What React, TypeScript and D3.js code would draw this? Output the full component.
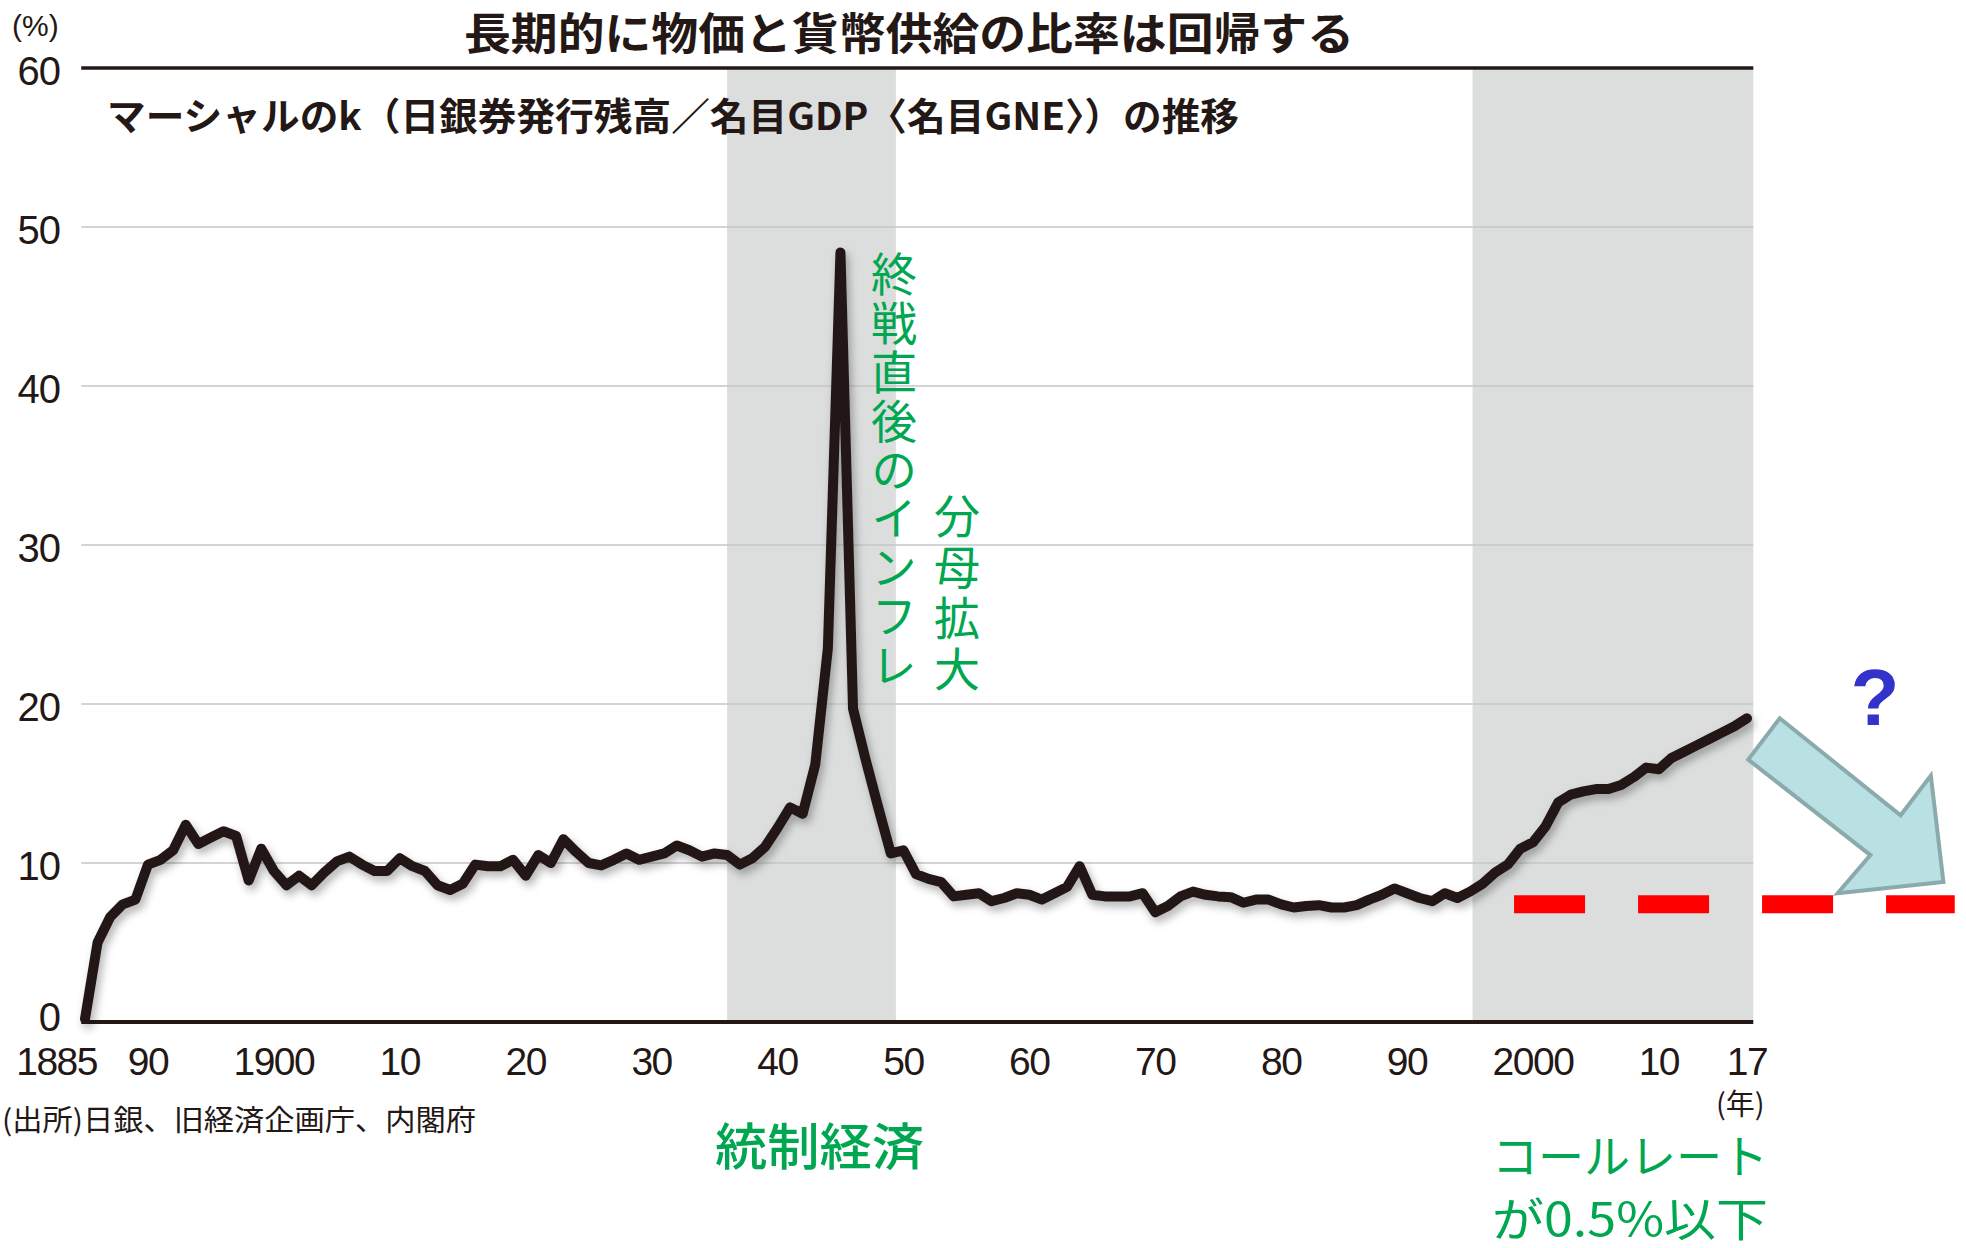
import React from 'react';
import * as d3 from 'd3';

// ---- data: Marshall's k (%) ----
const startYear = 1885;
const values1885_1919 = [
  0.2, 5.0, 6.6, 7.4, 7.7, 9.9, 10.2, 10.8, 12.4, 11.2,
  11.6, 12.0, 11.7, 8.9, 10.9, 9.5, 8.6, 9.2, 8.6, 9.4,
  10.1, 10.4, 9.9, 9.5, 9.5, 10.3, 9.8, 9.5, 8.6, 8.3,
  8.7, 9.9, 9.8, 9.8, 10.2,
];
const values1920_1949 = [
  9.2, 10.5, 10.0, 11.5, 10.7, 10.0, 9.85, 10.2, 10.6, 10.2,
  10.4, 10.6, 11.1, 10.8, 10.4, 10.6, 10.5, 9.9, 10.3, 11.0,
  12.2, 13.5, 13.1, 16.2, 23.5, 48.4, 19.7, 16.5, 13.5, 10.6,
];
const values1950_1989 = [
  10.8, 9.3, 9.0, 8.8, 7.9, 8.0, 8.1, 7.6, 7.8, 8.1,
  8.0, 7.7, 8.1, 8.5, 9.8, 8.0, 7.9, 7.9, 7.9, 8.1,
  6.9, 7.3, 7.9, 8.2, 8.0, 7.9, 7.85, 7.5, 7.7, 7.7,
  7.4, 7.2, 7.3, 7.35, 7.2, 7.2, 7.35, 7.7, 8.0, 8.4,
];
const values1990_2017 = [
  8.1, 7.8, 7.6, 8.1, 7.8, 8.2, 8.7, 9.4, 9.9, 10.9,
  11.3, 12.3, 13.8, 14.3, 14.5, 14.65, 14.65, 14.9, 15.4, 16.0,
  15.9, 16.6, 17.0, 17.4, 17.8, 18.2, 18.6, 19.1,
];
const allValues = [...values1885_1919, ...values1920_1949, ...values1950_1989, ...values1990_2017];

const yTicks = [0, 10, 20, 30, 40, 50, 60];
const xTickYears = [1885, 1890, 1900, 1910, 1920, 1930, 1940, 1950, 1960, 1970, 1980, 1990, 2000, 2010, 2017];
const xTickLabels = ['1885', '90', '1900', '10', '20', '30', '40', '50', '60', '70', '80', '90', '2000', '10', '17'];

const shadePeriods: [number, number][] = [[1936, 1949.4], [1995.2, 2017.5]];
const frameYears: [number, number] = [1884.7, 2017.5];
const callRateLevel = 7.4;
const callRateYears: [number, number] = [1998.5, 2033.5];
// arrow outline in (year, value)
const arrowPoints: [number, number][] = [
  [2019.6, 19.1], [2029.2, 13.0], [2031.6, 15.5], [2032.6, 8.8],
  [2024.2, 8.1], [2026.8, 10.5], [2017.1, 16.5],
];

const title = '長期的に物価と貨幣供給の比率は回帰する';
const subtitle = 'マーシャルのk（日銀券発行残高／名目GDP〈名目GNE〉）の推移';
const source = '(出所)日銀、旧経済企画庁、内閣府';
const noteInflation = '終戦直後のインフレ';
const noteDenominator = '分母拡大';
const noteControlled = '統制経済';
const noteCall1 = 'コールレート';
const noteCall2 = 'が0.5%以下';

const W = 1966;
const H = 1248;
const INK = '#231815';
const GREEN = '#00a650';
const JP = '"Noto Sans CJK JP", "Noto Sans", sans-serif';
const NUM = '"Liberation Sans", Arial, sans-serif';

export default function App() {
  const x = d3.scaleLinear().domain([1885, 2017]).range([85, 1747]);
  const y = d3.scaleLinear().domain([0, 60]).range([1022, 68]);
  const data: [number, number][] = allValues.map((v, i) => [startYear + i, v]);
  const linePath = d3.line<[number, number]>().x(d => x(d[0])).y(d => y(d[1]))(data) || '';
  const arrowPath = d3.line<[number, number]>().x(d => x(d[0])).y(d => y(d[1]))(arrowPoints) + 'Z';
  const fx0 = x(frameYears[0]);
  const fx1 = x(frameYears[1]);

  return (
    <svg width={W} height={H} style={{ position: 'absolute', left: 0, top: 0, background: '#fff' }}>
      <defs>
        <filter id="shadow" x="-5%" y="-5%" width="110%" height="110%">
          <feDropShadow dx="3" dy="5" stdDeviation="4" floodColor="#000" floodOpacity="0.3" />
        </filter>
      </defs>
      <rect x={0} y={0} width={W} height={H} fill="#fff" />

      {shadePeriods.map(([a, b], i) => (
        <rect key={i} x={x(a)} y={y(60)} width={x(b) - x(a)} height={y(0) - y(60)} fill="#dcdddd" />
      ))}

      {yTicks.filter(t => t > 0 && t < 60).map(t => (
        <line key={t} x1={fx0} x2={fx1} y1={y(t)} y2={y(t)} stroke="#c6c6c6" strokeWidth={1.6} />
      ))}
      <line x1={fx0} x2={fx1} y1={y(60)} y2={y(60)} stroke={INK} strokeWidth={3.5} />
      <line x1={fx0} x2={fx1} y1={y(0)} y2={y(0)} stroke={INK} strokeWidth={4} />

      {yTicks.map(t => (
        <text key={t} x={60} y={y(t) + (t === 0 ? -5 : 3)} textAnchor="end" dominantBaseline="central"
          fontFamily={NUM} fontSize={40} fill={INK} letterSpacing={-1}>{t}</text>
      ))}
      {xTickYears.map((yr, i) => (
        <text key={yr} x={i === 0 ? x(yr) + 12 : x(yr)} y={1075} textAnchor={i === 0 ? 'end' : 'middle'}
          fontFamily={NUM} fontSize={39} fill={INK} letterSpacing={-1.5}>{xTickLabels[i]}</text>
      ))}

      <text x={12} y={36} fontFamily={NUM} fontSize={30} fill={INK}>(%)</text>
      <text x={1716} y={1115} fontFamily={JP} fontSize={29} fill={INK}>(年)</text>

      <path d={linePath} fill="none" stroke={INK} strokeWidth={10} strokeLinejoin="round" strokeLinecap="round"
        filter="url(#shadow)" />

      <line x1={x(callRateYears[0])} x2={x(callRateYears[1])} y1={y(callRateLevel)} y2={y(callRateLevel)}
        stroke="#ff0000" strokeWidth={18} strokeDasharray="71 53" />

      <path d={arrowPath} fill="#b9e0e3" stroke="#8aaaac" strokeWidth={4} strokeLinejoin="miter" />
      <text x={1875} y={725} textAnchor="middle" fontFamily={NUM} fontWeight="bold" fontSize={80} fill="#3333cc">?</text>

      <text x={464} y={50} fontFamily={JP} fontWeight="bold" fontSize={44} fill={INK}
        textLength={890} lengthAdjust="spacingAndGlyphs">{title}</text>
      <text x={107} y={130} fontFamily={JP} fontWeight="bold" fontSize={38} fill={INK}
        textLength={1132} lengthAdjust="spacingAndGlyphs">{subtitle}</text>
      <text x={2} y={1131} fontFamily={JP} fontSize={29} fill={INK}
        textLength={474} lengthAdjust="spacingAndGlyphs">{source}</text>

      <text x={894} y={251} fontFamily={JP} fontSize={46} fill={GREEN} letterSpacing={2.8}
        style={{ writingMode: 'vertical-rl' }}>{noteInflation}</text>
      <text x={957} y={493} fontFamily={JP} fontSize={46} fill={GREEN} letterSpacing={5}
        style={{ writingMode: 'vertical-rl' }}>{noteDenominator}</text>

      <text x={715} y={1165} fontFamily={JP} fontWeight="500" fontSize={50} fill={GREEN}
        textLength={209} lengthAdjust="spacingAndGlyphs">{noteControlled}</text>
      <text x={1492} y={1173} fontFamily={JP} fontSize={46} fill={GREEN}
        textLength={276} lengthAdjust="spacingAndGlyphs">{noteCall1}</text>
      <text x={1492} y={1236} fontFamily={JP} fontSize={46} fill={GREEN}
        textLength={276} lengthAdjust="spacingAndGlyphs">{noteCall2}</text>
    </svg>
  );
}
